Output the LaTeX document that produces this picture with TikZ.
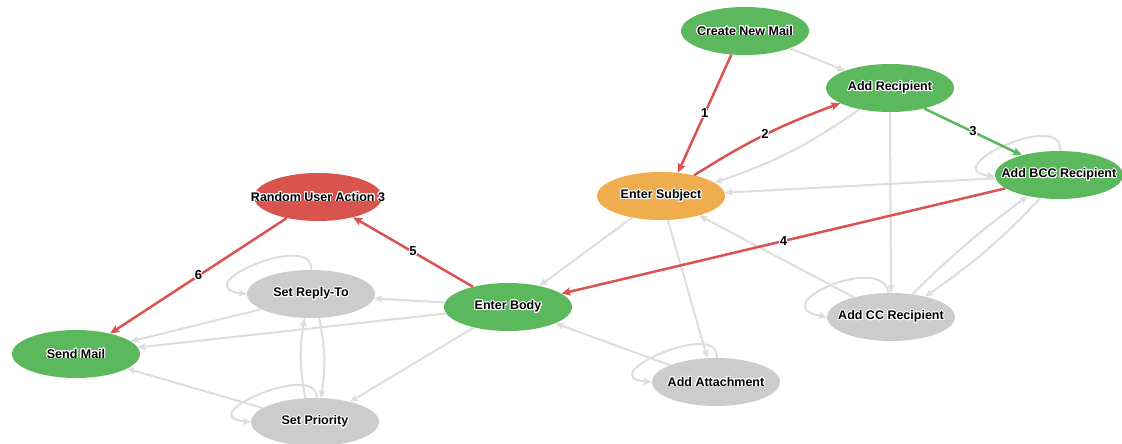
\documentclass[tikz,border=0pt]{standalone}
\usepackage{fontspec}
\setmainfont{Liberation Sans}
\usepackage[copies]{contour}
\contourlength{0.9pt}
\contournumber{24}
\usetikzlibrary{shapes.geometric,arrows.meta}

\definecolor{okgreen}{HTML}{5CB85C}
\definecolor{badred}{HTML}{D9534F}
\definecolor{warnorange}{HTML}{F0AD4E}
\definecolor{idlegray}{HTML}{CCCCCC}
\definecolor{edgegray}{HTML}{DDDDDD}

% haloed text; state names take no width so every ellipse keeps its fixed size
\newcommand\halo[1]{\contour{white}{#1}}
\newcommand\statename[1]{\makebox[0pt]{\halo{#1}}}

\begin{document}
\begin{tikzpicture}[x=1pt,y=-1pt,
  screen/.style={ellipse, minimum width=128pt, minimum height=48pt,
    inner sep=0pt, draw=none, font=\fontsize{12.5}{14}\selectfont\bfseries},
  donestate/.style={screen, fill=okgreen},
  failstate/.style={screen, fill=badred},
  currentstate/.style={screen, fill=warnorange},
  idlestate/.style={screen, fill=idlegray},
  link/.style={draw=edgegray, line width=2pt,
    -{Stealth[length=8pt,width=7pt,inset=1.5pt]}},
  hotlink/.style={draw=badred, line width=2.5pt,
    -{Stealth[length=9pt,width=8pt,inset=1.5pt]}},
  goodlink/.style={draw=okgreen, line width=2.5pt,
    -{Stealth[length=9pt,width=8pt,inset=1.5pt]}},
  numlabel/.style={midway, inner sep=0pt, font=\fontsize{13}{14}\selectfont\bfseries}
]
\useasboundingbox (0,0) rectangle (1122,444);

% states
\node[donestate]    (cnm) at (745,31)  {\statename{Create New Mail}};
\node[donestate]    (ar)  at (890,88)  {\statename{Add Recipient}};
\node[donestate]    (bcc) at (1059,175) {\statename{Add BCC Recipient}};
\node[currentstate] (es)  at (661,196) {\statename{Enter Subject}};
\node[donestate]    (eb)  at (508,307) {\statename{Enter Body}};
\node[idlestate]    (att) at (716,382) {\statename{Add Attachment}};
\node[idlestate]    (cc)  at (891,317) {\statename{Add CC Recipient}};
\node[failstate]    (rua) at (318,197) {\statename{Random User Action 3}};
\node[idlestate]    (srt) at (311,294) {\statename{Set Reply-To}};
\node[donestate]    (sm)  at (76,354)  {\statename{Send Mail}};
\node[idlestate]    (sp)  at (315,422) {\statename{Set Priority}};

% possible transitions
\draw[link] (cnm.339) -- (ar.159);
\draw[link] (ar.215) to[bend left=8] (es.14);
\draw[link] (ar.south) -- (cc.north);
\draw[link] (bcc.87) .. controls (1063,108) and (935,170) .. (bcc.181);
\draw[link] (bcc.183) -- (es.3);
\draw[link] (cc.47) to[bend left=4] (bcc.214);
\draw[link] (bcc.231) to[bend left=6] (cc.31);
\draw[link] (cc.152) -- (es.333);
\draw[link] (cc.96) .. controls (882,252) and (762,306) .. (cc.180);
\draw[link] (es.217) -- (eb.34);
\draw[link] (es.286) -- (att.110);
\draw[link] (att.88) .. controls (720,318) and (590,377) .. (att.180);
\draw[link] (att.160) -- (eb.341);
\draw[link] (eb.176) -- (srt.356);
\draw[link] (eb.186) -- (sm.6);
\draw[link] (srt.197) -- (sm.13);
\draw[link] (srt.89) .. controls (313,230) and (185,286) .. (srt.180);
\draw[link] (sp.112) to[bend left=10] (srt.255);
\draw[link] (srt.289) to[bend left=10] (sp.76);
\draw[link] (sp.86) .. controls (319,360) and (190,416) .. (sp.180);
\draw[link] (sp.165) -- (sm.344);
\draw[link] (eb.211) -- (sp.30);

% the path that was taken
\draw[hotlink] (cnm.240) -- (es.54) node[numlabel] {\halo{1}};
\draw[hotlink] (es.32) to[bend left=6] node[numlabel] {\halo{2}} (ar.197);
\draw[goodlink] (ar.329) -- (bcc.152) node[numlabel] {\halo{3}};
\draw[hotlink] (bcc.194) -- (eb.14) node[numlabel] {\halo{4}};
\draw[hotlink] (eb.150) -- (rua.330) node[numlabel] {\halo{5}};
\draw[hotlink] (rua.214) -- (sm.31) node[numlabel] {\halo{6}};
\end{tikzpicture}
\end{document}
